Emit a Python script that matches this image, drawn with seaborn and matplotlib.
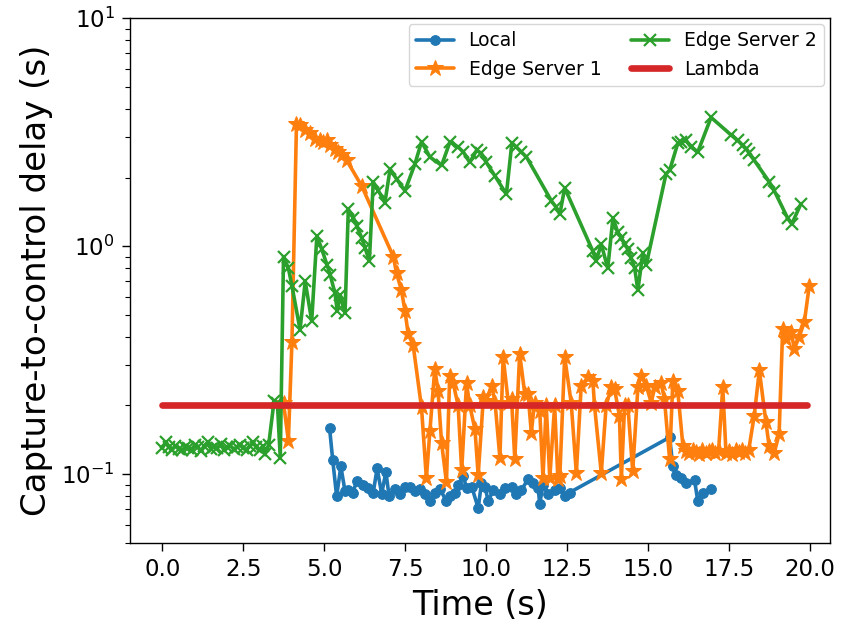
import numpy as np
import pandas as pd
import matplotlib
matplotlib.use("Agg")
import matplotlib.pyplot as plt
import seaborn as sns

# ---------------- data ----------------
local_t = [5.16, 5.26, 5.38, 5.51, 5.64, 5.74, 5.88, 6.00, 6.20, 6.36, 6.51, 6.63, 6.77, 6.90,
           7.00, 7.18, 7.33, 7.49, 7.64, 7.80, 7.95, 8.10, 8.26, 8.41, 8.57, 8.77, 8.88, 9.03,
           9.13, 9.29, 9.39, 9.55, 9.75, 9.85, 9.96, 10.06, 10.21, 10.42, 10.57, 10.78, 10.93,
           11.08, 11.29, 11.44, 11.60, 11.65, 11.75, 11.91, 12.11, 12.27, 12.42, 12.57,
           15.66, 15.76, 15.86, 16.01, 16.17, 16.43, 16.53, 16.68, 16.94]
local_v = [0.160, 0.115, 0.080, 0.108, 0.084, 0.085, 0.083, 0.093, 0.090, 0.087, 0.083, 0.106, 0.082, 0.102,
           0.080, 0.086, 0.082, 0.088, 0.088, 0.084, 0.086, 0.082, 0.076, 0.083, 0.086, 0.076, 0.080, 0.083,
           0.090, 0.098, 0.087, 0.088, 0.071, 0.091, 0.088, 0.076, 0.085, 0.082, 0.087, 0.088, 0.082,
           0.085, 0.095, 0.091, 0.087, 0.074, 0.090, 0.082, 0.085, 0.087, 0.080, 0.083,
           0.145, 0.108, 0.099, 0.096, 0.091, 0.094, 0.076, 0.083, 0.086]

es1_t = [3.74, 3.89, 4.00, 4.14, 4.25, 4.41, 4.56, 4.71, 4.87, 4.97, 5.08, 5.18, 5.33, 5.43, 5.54,
         5.69, 6.15, 7.13, 7.23, 7.38, 7.49, 7.59, 7.74, 8.00, 8.15, 8.26, 8.41, 8.51, 8.62, 8.77,
         8.87, 8.98, 9.13, 9.24, 9.39, 9.49, 9.65, 9.75, 9.91, 10.00, 10.17, 10.27, 10.42, 10.52,
         10.68, 10.78, 10.88, 11.03, 11.19, 11.29, 11.39, 11.49, 11.65, 11.75, 11.85, 11.96, 12.11,
         12.21, 12.27, 12.42, 12.62, 12.78, 12.93, 13.14, 13.29, 13.34, 13.55, 13.70, 13.86, 13.96,
         14.11, 14.17, 14.27, 14.37, 14.52, 14.68, 14.78, 14.94, 15.09, 15.20, 15.40, 15.50, 15.66,
         15.76, 15.91, 16.07, 16.17, 16.27, 16.37, 16.47, 16.57, 16.67, 16.77, 16.87, 16.97, 17.07,
         17.17, 17.30, 17.40, 17.50, 17.60, 17.70, 17.80, 17.90, 18.00, 18.10, 18.27, 18.43, 18.63,
         18.73, 18.89, 19.04, 19.15, 19.25, 19.41, 19.51, 19.66, 19.82, 19.97]
es1_v = [0.205, 0.140, 0.38, 3.45, 3.39, 3.23, 3.12, 2.96, 2.91, 2.87, 2.91, 2.77, 2.68, 2.59, 2.50,
         2.38, 1.84, 0.90, 0.76, 0.64, 0.52, 0.41, 0.37, 0.196, 0.096, 0.155, 0.29, 0.232, 0.137, 0.092,
         0.27, 0.25, 0.20, 0.104, 0.25, 0.20, 0.157, 0.099, 0.217, 0.21, 0.244, 0.206, 0.118, 0.326,
         0.206, 0.213, 0.116, 0.337, 0.224, 0.224, 0.152, 0.206, 0.19, 0.096, 0.20, 0.096, 0.20,
         0.095, 0.098, 0.326, 0.206, 0.101, 0.244, 0.266, 0.257, 0.20, 0.101, 0.20, 0.24, 0.236,
         0.18, 0.095, 0.20, 0.20, 0.103, 0.24, 0.27, 0.244, 0.206, 0.24, 0.25, 0.213, 0.116,
         0.257, 0.232, 0.133, 0.126, 0.124, 0.128, 0.125, 0.123, 0.127, 0.124, 0.126, 0.128, 0.124,
         0.126, 0.24, 0.124, 0.126, 0.123, 0.127, 0.125, 0.128, 0.124, 0.127, 0.18, 0.285, 0.17,
         0.133, 0.124, 0.15, 0.435, 0.39, 0.42, 0.355, 0.40, 0.466, 0.67]

es2_t = [0.00, 0.10, 0.20, 0.30, 0.40, 0.50, 0.60, 0.70, 0.80, 0.90, 1.00, 1.10, 1.20, 1.30, 1.40,
         1.50, 1.60, 1.70, 1.80, 1.90, 2.00, 2.10, 2.20, 2.30, 2.40, 2.50, 2.60, 2.70, 2.80, 2.90,
         3.00, 3.10, 3.17, 3.28, 3.45, 3.55, 3.64, 3.74, 3.89, 4.00, 4.25, 4.41, 4.61, 4.77, 4.92,
         5.08, 5.18, 5.33, 5.40, 5.49, 5.64, 5.74, 5.90, 6.00, 6.15, 6.26, 6.39, 6.51, 6.67, 6.87,
         7.03, 7.23, 7.49, 7.80, 8.00, 8.26, 8.62, 8.88, 9.13, 9.29, 9.49, 9.70, 9.85, 10.00, 10.26,
         10.62, 10.79, 10.93, 11.08, 11.24, 12.01, 12.16, 12.27, 12.42, 13.29, 13.39, 13.55, 13.75,
         13.91, 14.06, 14.17, 14.27, 14.37, 14.47, 14.58, 14.68, 14.83, 14.94, 15.55, 15.66, 15.91,
         16.02, 16.17, 16.32, 16.53, 16.94, 17.56, 17.76, 17.91, 18.02, 18.12, 18.27, 18.74, 18.89,
         19.30, 19.43, 19.71]
es2_v = [0.130, 0.138, 0.131, 0.128, 0.133, 0.129, 0.127, 0.131, 0.130, 0.128, 0.134, 0.131, 0.126,
         0.133, 0.138, 0.129, 0.132, 0.130, 0.136, 0.128, 0.131, 0.133, 0.129, 0.131, 0.134, 0.130,
         0.128, 0.133, 0.138, 0.131, 0.127, 0.133, 0.122, 0.134, 0.21, 0.205, 0.118, 0.90, 0.80, 0.67,
         0.43, 0.70, 0.47, 1.11, 0.97, 0.83, 0.75, 0.62, 0.52, 0.61, 0.51, 1.45, 1.33, 1.23, 1.09,
         0.98, 0.86, 1.91, 1.75, 1.55, 2.18, 1.97, 1.75, 2.30, 2.87, 2.46, 2.26, 2.87, 2.72, 2.59,
         2.33, 2.63, 2.55, 2.33, 2.04, 1.69, 2.84, 2.72, 2.59, 2.46, 1.58, 1.48, 1.38, 1.80, 0.95,
         0.86, 1.02, 0.80, 1.33, 1.15, 1.09, 1.02, 0.97, 0.89, 0.80, 0.64, 0.93, 0.83, 2.08, 2.15,
         2.82, 2.87, 2.91, 2.72, 2.59, 3.67, 3.07, 2.91, 2.77, 2.68, 2.55, 2.38, 1.91, 1.75, 1.33,
         1.25, 1.53]

lambda_t = [0.0, 19.9]
lambda_v = [0.2, 0.2]

# ---------------- plot ----------------
sns.set_style("ticks", {"axes.edgecolor": "black", "xtick.color": "black",
                        "ytick.color": "black", "text.color": "black",
                        "axes.labelcolor": "black"})
plt.rcParams['font.family'] = ['DejaVu Sans']

fig = plt.figure(figsize=(8.44, 6.26), dpi=100)
ax = fig.add_axes([0.154, 0.133, 0.829, 0.838])

pal = sns.color_palette("tab10")
series = [
    ("Local", local_t, local_v,
     dict(marker="o", markersize=7, linewidth=2.6, color=pal[0], markeredgecolor=pal[0])),
    ("Edge Server 1", es1_t, es1_v,
     dict(marker="*", markersize=12, linewidth=2.6, color=pal[1], markeredgecolor=pal[1])),
    ("Edge Server 2", es2_t, es2_v,
     dict(marker="x", markersize=8, markeredgewidth=1.6, linewidth=2.6, color=pal[2],
          markeredgecolor=pal[2])),
    ("Lambda", lambda_t, lambda_v,
     dict(linewidth=4.8, color=pal[3], solid_capstyle="round")),
]
for name, t, v, kw in series:
    df = pd.DataFrame({"t": t, "v": v})
    sns.lineplot(data=df, x="t", y="v", ax=ax, sort=False, estimator=None,
                 label=name, **kw)

ax.set_yscale("log")
ax.set_ylim(0.05, 10)
ax.set_xlim(-1.0, 20.6)
ax.set_xticks([0, 2.5, 5, 7.5, 10, 12.5, 15, 17.5, 20])
ax.set_xticklabels(["0.0", "2.5", "5.0", "7.5", "10.0", "12.5", "15.0", "17.5", "20.0"])
ax.tick_params(axis="both", which="major", labelsize=16.5, length=6, width=1.0,
               direction="out", colors="black", pad=5)
ax.tick_params(axis="y", which="minor", length=3.5, width=0.8, colors="black")
ax.set_xlabel("Time (s)", fontsize=24, labelpad=6)
ax.set_ylabel("Capture-to-control delay (s)", fontsize=24.5, labelpad=6)
for s in ax.spines.values():
    s.set_color("black")
    s.set_linewidth(1.0)

ax.legend(loc="upper right", ncol=2, fontsize=13.5, frameon=True, framealpha=0.8,
          edgecolor="0.8", handlelength=2.0, columnspacing=1.6, borderaxespad=0.3)

fig.savefig("out.png", dpi=100)
